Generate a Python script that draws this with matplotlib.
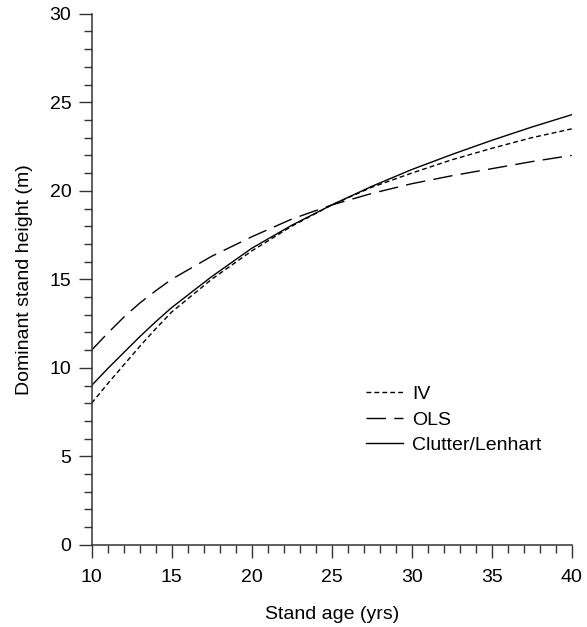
import numpy as np
import matplotlib
matplotlib.use("Agg")
from matplotlib import pyplot as plt
from matplotlib.ticker import MultipleLocator

# stand age (yrs) and predicted dominant height (m) per estimator
age        = [10, 11, 12, 13, 14, 15, 17.5, 20, 22.5, 25, 27.5, 30, 32.5, 35, 37.5, 40]
h_iv       = [8.0, 9.1, 10.15, 11.2, 12.2, 13.15, 15.0, 16.6, 18.0, 19.2, 20.2, 21.0, 21.75, 22.4, 23.0, 23.5]
h_ols      = [11.0, 11.95, 12.85, 13.65, 14.35, 15.0, 16.3, 17.4, 18.4, 19.2, 19.85, 20.4, 20.85, 21.25, 21.65, 22.0]
h_clutter  = [9.0, 9.95, 10.85, 11.75, 12.6, 13.4, 15.15, 16.75, 18.05, 19.2, 20.25, 21.2, 22.05, 22.85, 23.6, 24.3]

plt.rcParams['font.family'] = ['Liberation Sans', 'DejaVu Sans']
fs = 14

fig = plt.figure(figsize=(5.87, 6.27), dpi=100)
ax = fig.add_axes([0.156, 0.131, 0.818, 0.847])

ax.plot(age, h_iv, color='black', lw=1.0, dashes=(3.5, 2.2), label='IV')
ax.plot(age, h_ols, color='black', lw=1.0, dashes=(14, 6), label='OLS')
ax.plot(age, h_clutter, color='black', lw=1.0, label='Clutter/Lenhart')

ax.set_xlim(10, 40)
ax.set_ylim(0, 30)
ax.xaxis.set_major_locator(MultipleLocator(5))
ax.xaxis.set_minor_locator(MultipleLocator(1))
ax.yaxis.set_major_locator(MultipleLocator(5))
ax.yaxis.set_minor_locator(MultipleLocator(1))
ax.tick_params(which='major', direction='out', length=9.5, width=1.0,
               labelsize=fs, color='#333333')
ax.tick_params(axis='x', which='major', pad=8)
ax.tick_params(axis='y', which='major', pad=5)
ax.tick_params(which='minor', direction='out', length=5.5, width=1.0, color='#333333')

for s in ['top', 'right']:
    ax.spines[s].set_visible(False)
for s in ['left', 'bottom']:
    ax.spines[s].set_linewidth(1.1)
    ax.spines[s].set_color('#333333')

ax.set_xlabel('Stand age (yrs)', fontsize=fs, labelpad=14)
ax.set_ylabel('Dominant stand height (m)', fontsize=fs, labelpad=12)

ax.legend(loc='upper left', bbox_to_anchor=(0.571, 0.300), frameon=False,
          fontsize=fs, handlelength=1.9, handletextpad=0.5, labelspacing=0.4,
          borderpad=0, borderaxespad=0)

fig.savefig('out.png', dpi=100)
